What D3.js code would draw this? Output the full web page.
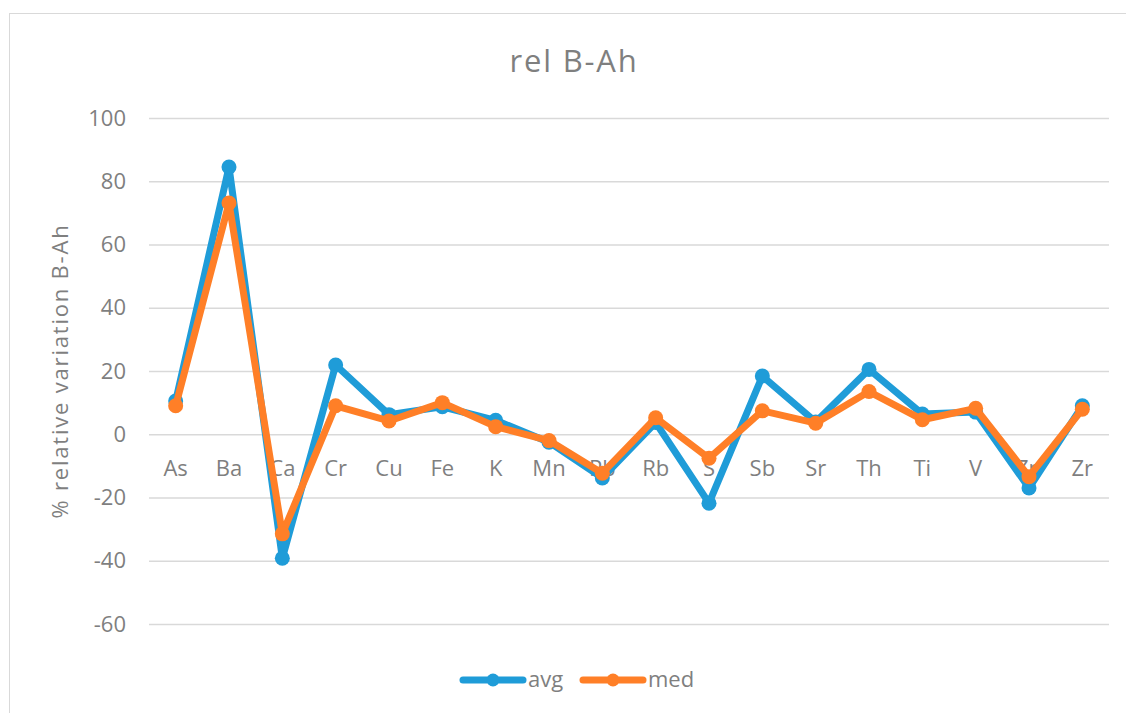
<!DOCTYPE html>
<html>
<head>
<meta charset="utf-8">
<script src="https://cdn.jsdelivr.net/npm/d3@7"></script>
<style>
  body { margin: 0; background: #fff; }
  text { font-family: "Open Sans", sans-serif; fill: #7f7f7f; }
</style>
</head>
<body>
<div id="chart"></div>
<script>
// data
const elements = ["As","Ba","Ca","Cr","Cu","Fe","K","Mn","Pb","Rb","S","Sb","Sr","Th","Ti","V","Zn","Zr"];
const avgValues = [10.5, 84.5, -39.2, 21.9, 6.2, 8.7, 4.4, -2.5, -13.8, 3.7, -21.8, 18.4, 3.9, 20.5, 6.4, 7.0, -17.0, 9.0];
const medValues = [9.0, 73.1, -31.5, 9.0, 4.2, 10.0, 2.4, -2.0, -12.3, 5.2, -7.6, 7.4, 3.5, 13.5, 4.6, 8.2, -13.4, 7.9];
const yTicks = [-60, -40, -20, 0, 20, 40, 60, 80, 100];

const width = 1126, height = 713;
const margin = { left: 149, right: 17, top: 118, bottom: 89 };

const svg = d3.select('#chart')
  .append('svg')
  .attr('width', width)
  .attr('height', height);

// chart frame
svg.append('rect')
  .attr('x', 9.5).attr('y', 13.5)
  .attr('width', width + 10).attr('height', height + 10)
  .attr('fill', 'none')
  .attr('stroke', '#d9d9d9')
  .attr('stroke-width', 1);

const x = d3.scaleBand()
  .domain(elements)
  .range([margin.left, width - margin.right]);

const y = d3.scaleLinear()
  .domain([-60, 100])
  .range([height - margin.bottom, margin.top]);

// gridlines + y labels
const yAxis = svg.append('g')
  .attr('transform', `translate(${margin.left},0)`)
  .call(d3.axisLeft(y).tickValues(yTicks).tickFormat(d => String(d))
    .tickSize(-(width - margin.left - margin.right)).tickPadding(23));
yAxis.select('.domain').remove();
yAxis.selectAll('line').attr('stroke', '#d9d9d9').attr('stroke-width', 1.5);
yAxis.selectAll('text')
  .style('font-size', '22px')
  .style('font-family', '"Open Sans", sans-serif')
  .attr('fill', '#7f7f7f');

// category labels sit just under the zero line
svg.append('g')
  .selectAll('text')
  .data(elements)
  .enter()
  .append('text')
  .attr('x', d => x(d) + x.bandwidth() / 2)
  .attr('y', 476)
  .attr('text-anchor', 'middle')
  .style('font-size', '22px')
  .text(d => d);

const series = [
  { name: 'avg', values: avgValues, color: '#1f9cd8' },
  { name: 'med', values: medValues, color: '#ff7f27' }
];

const line = d3.line()
  .x((d, i) => x(elements[i]) + x.bandwidth() / 2)
  .y(d => y(d));

series.forEach(s => {
  const g = svg.append('g');
  g.append('path')
    .datum(s.values)
    .attr('fill', 'none')
    .attr('stroke', s.color)
    .attr('stroke-width', 7)
    .attr('stroke-linejoin', 'round')
    .attr('d', line);
  g.selectAll('circle')
    .data(s.values)
    .enter()
    .append('circle')
    .attr('cx', (d, i) => x(elements[i]) + x.bandwidth() / 2)
    .attr('cy', d => y(d))
    .attr('r', 7.5)
    .attr('fill', s.color);
});

// title
svg.append('text')
  .attr('x', 574)
  .attr('y', 72)
  .attr('text-anchor', 'middle')
  .style('font-size', '31px')
  .style('letter-spacing', '1.8px')
  .text('rel B-Ah');

// y axis title
svg.append('text')
  .attr('transform', `translate(68,${(y(100) + y(-60)) / 2}) rotate(-90)`)
  .attr('text-anchor', 'middle')
  .style('font-size', '22px')
  .style('letter-spacing', '1.8px')
  .text('% relative variation B-Ah');

// legend
const legend = svg.append('g').attr('transform', 'translate(463,680)');
series.forEach((s, i) => {
  const lg = legend.append('g').attr('transform', `translate(${i * 120},0)`);
  lg.append('line')
    .attr('x1', 0).attr('x2', 60)
    .attr('stroke', s.color)
    .attr('stroke-width', 7)
    .attr('stroke-linecap', 'round');
  lg.append('circle').attr('cx', 30).attr('r', 6.5).attr('fill', s.color);
  lg.append('text')
    .attr('x', 65).attr('y', 7)
    .style('font-size', '22px')
    .text(s.name);
});
</script>
</body>
</html>
